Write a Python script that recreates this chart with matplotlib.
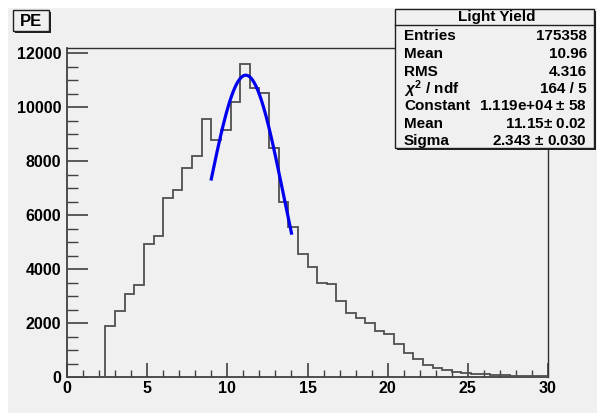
import numpy as np
import matplotlib
matplotlib.use("Agg")
import matplotlib.pyplot as plt
from matplotlib.patches import Rectangle
from matplotlib.lines import Line2D

# ---- data ----
bin_lo = 0.0
bin_hi = 30.0
n_bins = 50
counts = [0, 0, 0, 0,
          1911, 2456, 3097, 3419, 4949, 5246, 6630, 6949, 7764, 8197,
          9567, 8778, 9160, 10208, 11605, 10705, 10542, 8482, 6504, 5578,
          4556, 4074, 3482, 3445, 2815, 2370, 2196, 2022, 1726, 1604,
          1245, 900, 672, 470, 356, 270, 207, 170, 133, 111,
          85, 70, 55, 50, 45, 30]
fit_const = 1.119e4
fit_mean = 11.15
fit_sigma = 2.343
fit_range = [9.0, 14.0]
xticks = [0, 5, 10, 15, 20, 25, 30]
yticks = [0, 2000, 4000, 6000, 8000, 10000, 12000]
title = "PE"
stats_title = "Light Yield"
stats_labels = ["Entries", "Mean", "RMS", r"$\chi^{2}$ / ndf", "Constant", "Mean", "Sigma"]
stats_values = ["175358", "10.96", "4.316", "164 / 5", "1.119e+04 $\\pm$ 58",
                "11.15$\\pm$ 0.02", "2.343 $\\pm$ 0.030"]

W, H = 597, 413
plt.rcParams['font.family'] = ['Liberation Sans', 'DejaVu Sans']
plt.rcParams['font.weight'] = 'bold'
plt.rcParams['mathtext.fontset'] = 'custom'
plt.rcParams['mathtext.rm'] = 'Liberation Sans:bold'
plt.rcParams['mathtext.it'] = 'Liberation Sans:italic'
plt.rcParams['mathtext.bf'] = 'Liberation Sans:bold'

fig = plt.figure(figsize=(W / 100, H / 100), dpi=100, facecolor='white')
bg = '#f0f0f0'

def fx(px):
    return px / W

def fy(py):
    return 1 - py / H

# gray canvas
fig.patches.append(Rectangle((fx(8), 0), 1 - fx(8), fy(8), transform=fig.transFigure,
                             facecolor=bg, edgecolor='none', zorder=-5))

left, right, top, bottom = 67, 548, 48.3, 377.3
ax = fig.add_axes([fx(left), fy(bottom), fx(right - left), (bottom - top) / H])
ax.set_facecolor(bg)
ax.set_zorder(1)

edges = np.linspace(bin_lo, bin_hi, n_bins + 1)
ax.stairs(counts, edges, color='#505050', linewidth=1.3, baseline=0, zorder=3)

xf = np.linspace(fit_range[0], fit_range[1], 200)
yf = fit_const * np.exp(-0.5 * ((xf - fit_mean) / fit_sigma) ** 2)
ax.plot(xf, yf, color='#0000ee', linewidth=2.3, zorder=4)

ymax = (bottom - top) / 54.0 * 2000
ax.set_xlim(0, 30)
ax.set_ylim(0, ymax)
ax.set_xticks(xticks)
ax.set_xticks(np.arange(0, 31, 1), minor=True)
ax.set_yticks(yticks)
ax.set_yticks(np.arange(0, 12001, 500), minor=True)
ax.set_xticklabels([str(t) for t in xticks])
ax.set_yticklabels([str(t) for t in yticks])
ax.tick_params(axis='x', which='major', direction='in', length=10, width=1.2,
               color='#404040', pad=3, labelsize=11.5)
ax.tick_params(axis='x', which='minor', direction='in', length=5, width=1.0, color='#404040')
ax.tick_params(axis='y', which='major', direction='in', length=15, width=1.2,
               color='#404040', pad=4, labelsize=11.5)
ax.tick_params(axis='y', which='minor', direction='in', length=8, width=1.0, color='#404040')
for lab in ax.get_xticklabels() + ax.get_yticklabels():
    lab.set_fontweight('bold')
for s in ['left', 'bottom']:
    ax.spines[s].set_color('#404040')
    ax.spines[s].set_linewidth(1.3)
for s in ['top', 'right']:
    ax.spines[s].set_color('#303030')
    ax.spines[s].set_linewidth(1.0)

# title box "PE"
def box(x0, y0, x1, y1, z=5):
    fig.patches.append(Rectangle((fx(x0 + 2), fy(y1 + 2)), fx(x1 - x0), (y1 - y0) / H,
                                 transform=fig.transFigure, facecolor='#202020',
                                 edgecolor='none', zorder=z))
    fig.patches.append(Rectangle((fx(x0), fy(y1)), fx(x1 - x0), (y1 - y0) / H,
                                 transform=fig.transFigure, facecolor=bg,
                                 edgecolor='#202020', linewidth=1.0, zorder=z + 0.1))

box(13, 10, 49, 31)
fig.text(fx(31), fy(21), title, ha='center', va='center', fontsize=12,
         fontweight='bold', zorder=7)

# stats box
box(395, 9, 594, 148, z=8)
fig.add_artist(Line2D([fx(395), fx(594)], [fy(25), fy(25)], transform=fig.transFigure,
                      color='#202020', linewidth=1.0, zorder=9))
fig.text(fx(497), fy(17), stats_title, ha='center', va='center', fontsize=11,
         fontweight='bold', zorder=10)
row_y = [36.5, 54, 71.5, 89, 106.5, 124, 141]
for lab, val, yy in zip(stats_labels, stats_values, row_y):
    fig.text(fx(404), fy(yy), lab, ha='left', va='center', fontsize=11,
             fontweight='bold', zorder=10)
    fig.text(fx(587), fy(yy), val, ha='right', va='center', fontsize=11,
             fontweight='bold', zorder=10)

fig.savefig('out.png', dpi=100, facecolor='white')
